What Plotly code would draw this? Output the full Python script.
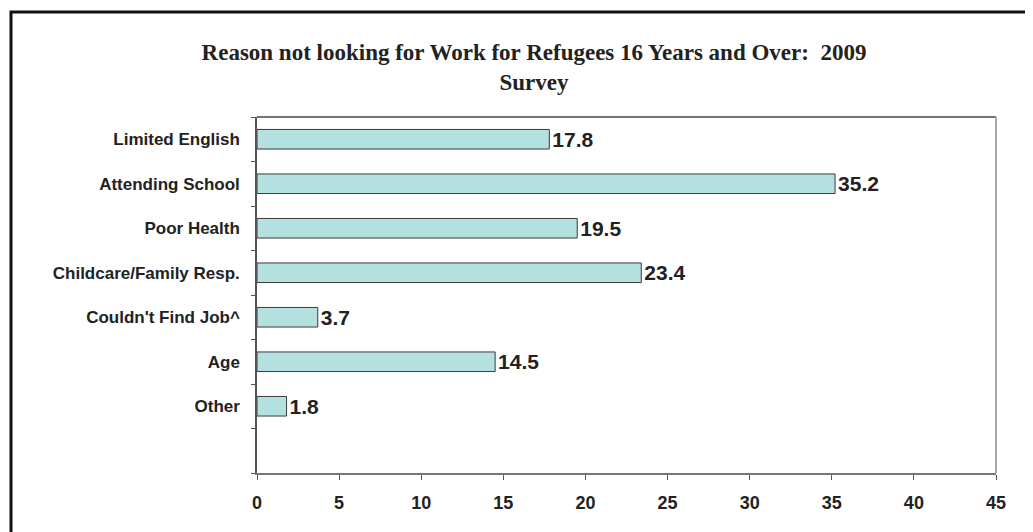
import plotly.graph_objects as go

categories = ["Limited English", "Attending School", "Poor Health", "Childcare/Family Resp.",
              "Couldn't Find Job^", "Age", "Other"]
values = [17.8, 35.2, 19.5, 23.4, 3.7, 14.5, 1.8]
x_ticks = [0, 5, 10, 15, 20, 25, 30, 35, 40, 45]

pos = list(range(len(categories)))

OFF = 8  # page body margin
W, H = 1033, 532
l, t = 257 - OFF, 117 - OFF
pw, ph = 739, 356
r = W - l - pw
b = H - t - ph

def px(xs):
    return (xs - OFF - l) / pw

def py(ys):
    return (t + ph - (ys - OFF)) / ph

fig = go.Figure()
fig.add_trace(go.Bar(
    x=values, y=pos, orientation="h", width=0.44,
    marker=dict(color="#b4e0e0", line=dict(color="#3a3a3a", width=1)),
    text=[f"{v:.1f}" for v in values], textposition="outside",
    constraintext="none",
    textfont=dict(family="Liberation Sans", size=21, color="#222", weight="bold"),
    cliponaxis=False, hoverinfo="skip",
))

fig.update_layout(
    width=W, height=H,
    margin=dict(l=l, r=r, t=t, b=b),
    paper_bgcolor="white", plot_bgcolor="white",
    showlegend=False,
    title=dict(
        text="<b>Reason not looking for Work for Refugees 16 Years and Over:  2009<br>Survey</b>",
        x=(534 - OFF) / W, xanchor="center", xref="container",
        y=1 - 52 / H, yanchor="top",
        font=dict(family="Liberation Serif", size=23, color="#222"),
    ),
    xaxis=dict(
        range=[0, 45], tickvals=x_ticks, ticks="outside", ticklen=5, tickcolor="#555",
        showgrid=False, zeroline=False, showline=True, linecolor="#777", linewidth=1.5,
        tickfont=dict(family="Liberation Sans", size=18, color="#222", weight="bold"),
        ticklabelstandoff=8,
    ),
    yaxis=dict(
        range=[7.5, -0.5], tickvals=pos, ticktext=categories, ticks="",
        showgrid=False, zeroline=False, showline=True, linecolor="#555", linewidth=1.5,
        tickfont=dict(family="Liberation Sans", size=17, color="#222", weight="bold"),
        ticklabelstandoff=12,
        minor=dict(tick0=0.5, dtick=1, ticks="outside", ticklen=4, tickcolor="#555"),
    ),
    shapes=[
        dict(type="line", xref="paper", yref="paper", x0=0, x1=1, y0=1, y1=1,
             line=dict(color="#444", width=1.5)),
        dict(type="line", xref="paper", yref="paper", x0=1, x1=1, y0=0, y1=1,
             line=dict(color="#aaa", width=2)),
        dict(type="rect", xref="paper", yref="paper",
             x0=px(11), x1=px(1050), y0=py(12), y1=py(550),
             line=dict(color="#111", width=3)),
    ],
)

fig.write_html("out.html")
